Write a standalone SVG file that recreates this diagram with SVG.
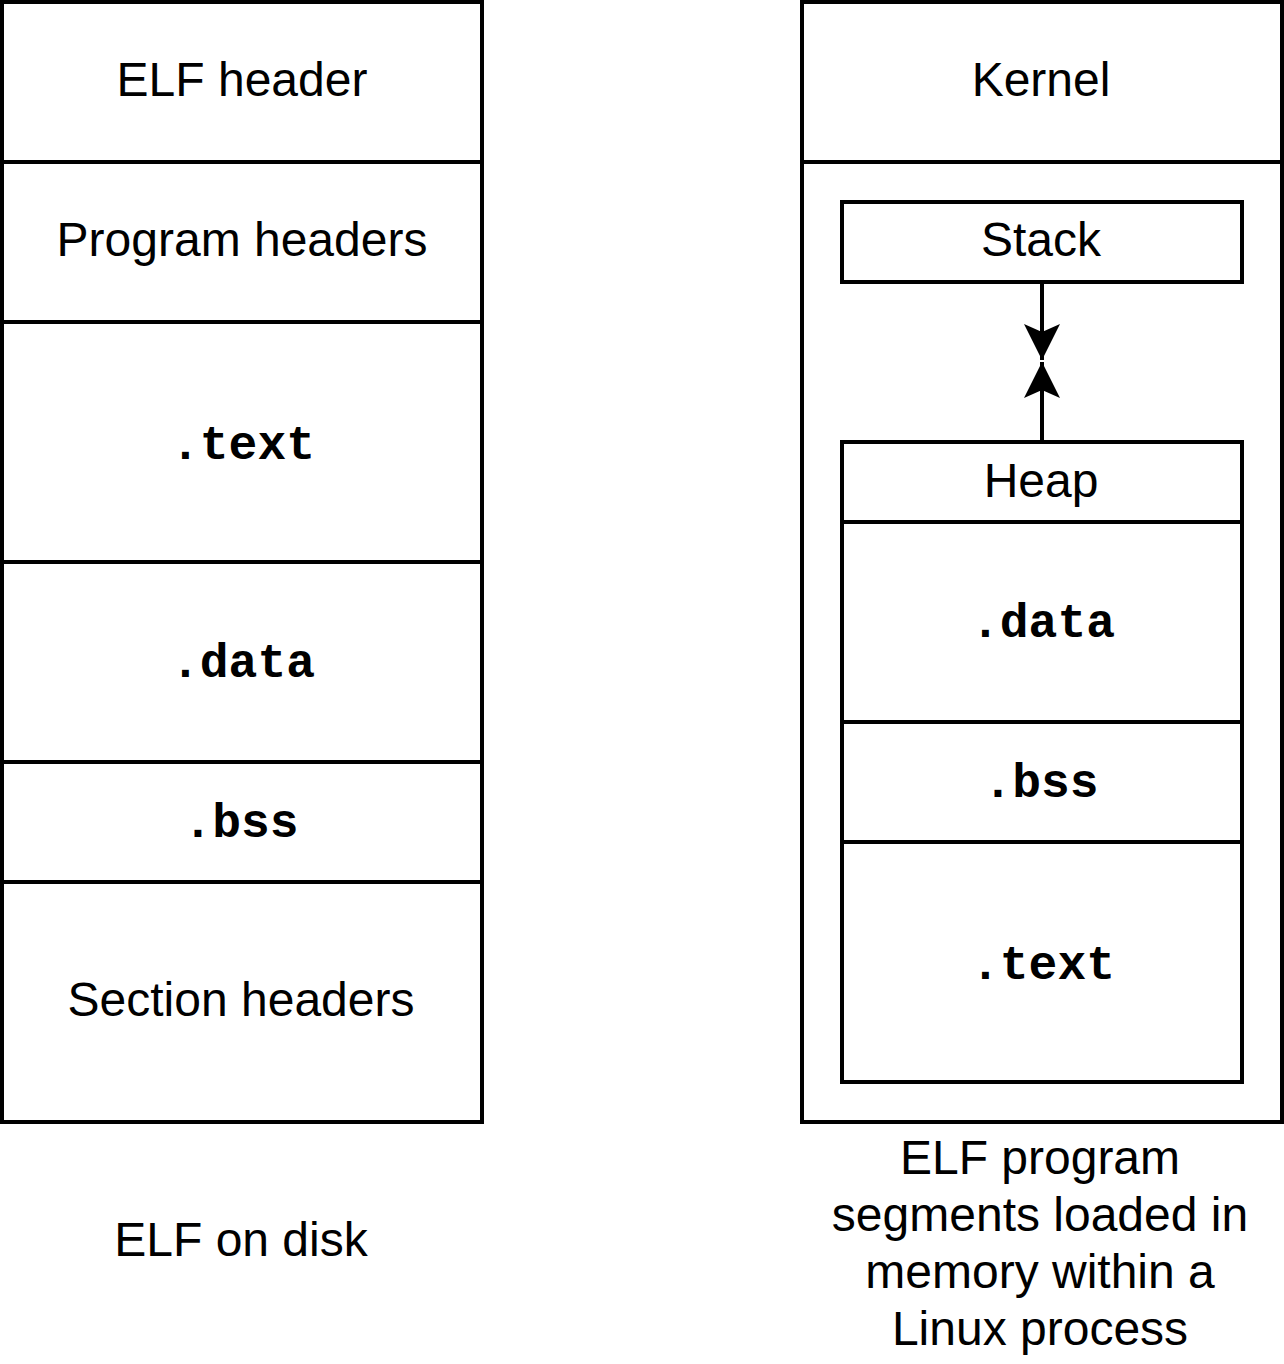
<svg xmlns="http://www.w3.org/2000/svg" width="1284" height="1364" viewBox="0 0 1284 1364">
<style>
.box{fill:#fff;stroke:#000;stroke-width:4}
.s{font-family:"Liberation Sans",Arial,sans-serif;font-size:48px;text-anchor:middle;fill:#000}
.m{font-family:"Liberation Mono","Courier New",monospace;font-weight:bold;font-size:48px;text-anchor:middle;fill:#000}
.c{fill:none;stroke:#000;stroke-width:4}
</style>
<defs>
<marker id="arr" viewBox="0 0 40 40" refX="36" refY="20" markerWidth="40" markerHeight="40" markerUnits="userSpaceOnUse" orient="auto">
<path d="M36,20 L0,2 L8,20 L0,38 Z" fill="#000"/>
</marker>
</defs>
<rect x="0" y="0" width="1284" height="1364" fill="#fff"/>
<g id="elf-header"><rect class="box" x="2" y="2" width="480" height="160"/><text class="s" x="242" y="96">ELF header</text></g>
<g id="program-headers"><rect class="box" x="2" y="162" width="480" height="160"/><text class="s" x="242" y="256">Program headers</text></g>
<g id="text-disk"><rect class="box" x="2" y="322" width="480" height="240"/><text class="m" x="243" y="459">.text</text></g>
<g id="data-disk"><rect class="box" x="2" y="562" width="480" height="200"/><text class="m" x="243" y="677">.data</text></g>
<g id="bss-disk"><rect class="box" x="2" y="762" width="480" height="120"/><text class="m" x="241" y="837">.bss</text></g>
<g id="section-headers"><rect class="box" x="2" y="882" width="480" height="240"/><text class="s" x="241" y="1016">Section headers</text></g>
<g id="caption-disk"><text class="s" x="241" y="1256">ELF on disk</text></g>
<g id="process"><rect class="box" x="802" y="2" width="480" height="1120"/></g>
<g id="kernel"><rect class="box" x="802" y="2" width="480" height="160"/><text class="s" x="1041" y="96">Kernel</text></g>
<g id="stack"><rect class="box" x="842" y="202" width="400" height="80"/><text class="s" x="1041" y="256">Stack</text></g>
<g id="heap"><rect class="box" x="842" y="442" width="400" height="80"/><text class="s" x="1041" y="497">Heap</text></g>
<g id="data-mem"><rect class="box" x="842" y="522" width="400" height="200"/><text class="m" x="1043" y="637">.data</text></g>
<g id="bss-mem"><rect class="box" x="842" y="722" width="400" height="120"/><text class="m" x="1041" y="797">.bss</text></g>
<g id="text-mem"><rect class="box" x="842" y="842" width="400" height="240"/><text class="m" x="1043" y="979">.text</text></g>
<g id="caption-mem"><text class="s" x="1040"><tspan x="1040" y="1174">ELF program</tspan><tspan x="1040" y="1231">segments loaded in</tspan><tspan x="1040" y="1288">memory within a</tspan><tspan x="1040" y="1345">Linux process</tspan></text></g>
<g id="connectors">
<path class="c" d="M1042,282 L1042,360" marker-end="url(#arr)"/>
<path class="c" d="M1042,442 L1042,362" marker-end="url(#arr)"/>
</g>
</svg>
